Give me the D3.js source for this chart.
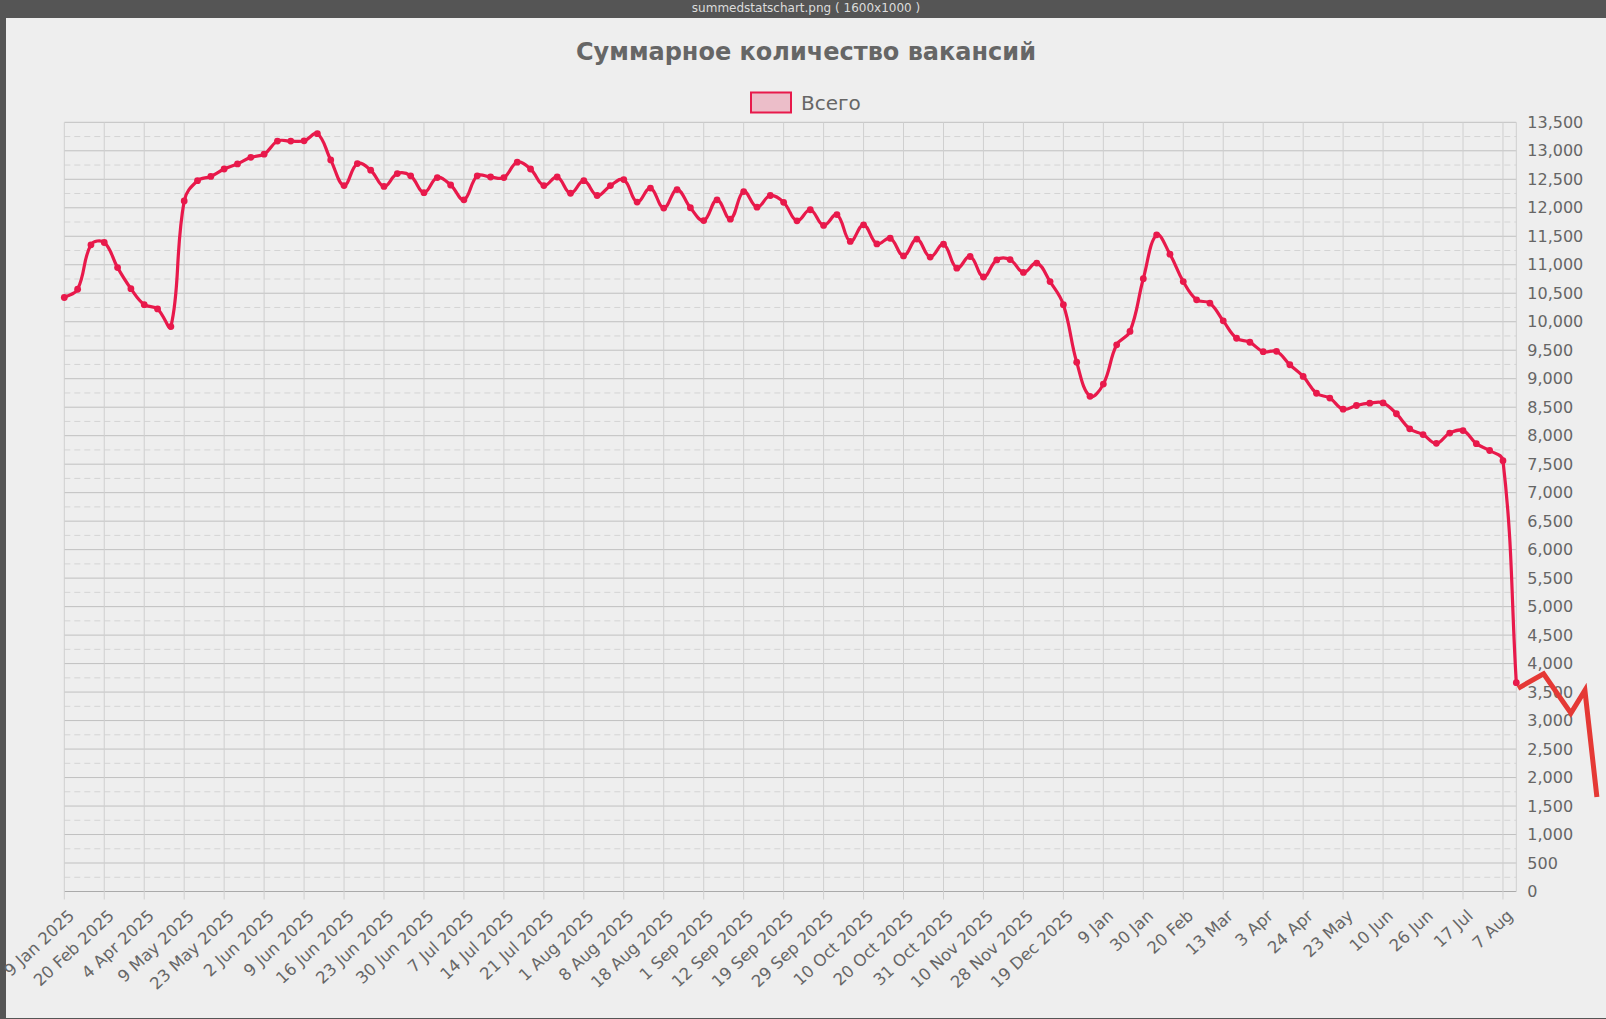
<!DOCTYPE html>
<html>
<head>
<meta charset="utf-8">
<script src="https://cdn.jsdelivr.net/npm/d3@7"></script>
<style>
    html, body { margin: 0; padding: 0; background: #555; }
    svg { display: block; font-family: "DejaVu Sans", sans-serif; }
</style>
</head>
<body>
<div id="chart"></div>
<script>
// tick labels shown under every third point
const tickLabels = [
    '9 Jan 2025', '20 Feb 2025', '4 Apr 2025', '9 May 2025', '23 May 2025', '2 Jun 2025',
    '9 Jun 2025', '16 Jun 2025', '23 Jun 2025', '30 Jun 2025', '7 Jul 2025', '14 Jul 2025',
    '21 Jul 2025', '1 Aug 2025', '8 Aug 2025', '18 Aug 2025', '1 Sep 2025', '12 Sep 2025',
    '19 Sep 2025', '29 Sep 2025', '10 Oct 2025', '20 Oct 2025', '31 Oct 2025', '10 Nov 2025',
    '28 Nov 2025', '19 Dec 2025', '9 Jan', '30 Jan', '20 Feb', '13 Mar', '3 Apr', '24 Apr',
    '23 May', '10 Jun', '26 Jun', '17 Jul', '7 Aug'
];

// "Всего" series, one value per point
const totals = [
    10425, 10570, 11350, 11390, 10950, 10580, 10300, 10225, 9915, 12120,
    12475, 12550, 12680, 12770, 12885, 12940, 13170, 13170, 13175, 13300,
    12840, 12390, 12775, 12660, 12375, 12600, 12560, 12265, 12530, 12400,
    12140, 12560, 12540, 12530, 12800, 12680, 12390, 12540, 12255, 12475,
    12215, 12390, 12495, 12100, 12345, 11995, 12320, 12000, 11775, 12140,
    11800, 12285, 12010, 12215, 12095, 11770, 11965, 11690, 11880, 11410,
    11700, 11365, 11465, 11155, 11450, 11135, 11360, 10940, 11145, 10785,
    11085, 11090, 10865, 11030, 10705, 10300, 9290, 8690, 8905, 9595,
    9830, 10755, 11525, 11185, 10705, 10385, 10325, 10015, 9710, 9640,
    9475, 9480, 9245, 9040, 8745, 8660, 8465, 8530, 8570, 8575,
    8385, 8120, 8020, 7865, 8045, 8090, 7860, 7740, 7560, 3665
];

// stray segment drawn past the right edge of the plot
const tailIdx = [109.13, 111.05, 113.1, 114.15, 115.05];
const tailVals = [3565, 3820, 3130, 3530, 1660];

const yTicks = d3.range(0, 13501, 500);
const yMinor = d3.range(250, 13500, 500);

const W = 1606, H = 1019;
const margin = {left: 64.3, right: 1516.3, top: 122.3, bottom: 891.5};
const lineColor = '#e8194b';

const svg = d3.select('#chart').append('svg')
    .attr('width', W)
    .attr('height', H);

// window frame
svg.append('rect').attr('width', W).attr('height', H).attr('fill', '#555');
svg.append('rect')
    .attr('x', 6).attr('y', 18)
    .attr('width', 1600).attr('height', 1000)
    .attr('fill', '#eeeeee');
svg.append('text')
    .attr('x', 806).attr('y', 8)
    .attr('text-anchor', 'middle')
    .attr('dominant-baseline', 'central')
    .attr('font-size', 12)
    .attr('fill', '#dcdcdc')
    .text('summedstatschart.png ( 1600x1000 )');

const x = d3.scaleLinear()
    .domain([0, totals.length - 1])
    .range([margin.left, margin.right]);

const y = d3.scaleLinear()
    .domain([0, 13500])
    .range([margin.bottom, margin.top]);

// title
svg.append('text')
    .attr('x', 806).attr('y', 52)
    .attr('text-anchor', 'middle')
    .attr('dominant-baseline', 'central')
    .attr('font-size', 24)
    .attr('font-weight', 'bold')
    .attr('fill', '#666')
    .text('Суммарное количество вакансий');

// legend
svg.append('rect')
    .attr('x', 751).attr('y', 92.5)
    .attr('width', 40).attr('height', 20)
    .attr('fill', 'rgba(232,25,75,0.22)')
    .attr('stroke', lineColor)
    .attr('stroke-width', 2);
svg.append('text')
    .attr('x', 801).attr('y', 102.5)
    .attr('dominant-baseline', 'central')
    .attr('font-size', 20)
    .attr('fill', '#666')
    .text('Всего');

// grid
const grid = svg.append('g');
grid.selectAll('.minor')
    .data(yMinor)
    .join('line')
    .attr('x1', margin.left).attr('x2', margin.right)
    .attr('y1', d => y(d)).attr('y2', d => y(d))
    .attr('stroke', '#d4d4d4')
    .attr('stroke-dasharray', '6,4');

grid.selectAll('.major')
    .data(yTicks)
    .join('line')
    .attr('x1', margin.left).attr('x2', margin.right)
    .attr('y1', d => y(d)).attr('y2', d => y(d))
    .attr('stroke', d => d === 0 ? '#aaa' : '#c0c0c0');

const tickIdx = d3.range(0, totals.length, 3);

grid.selectAll('.vline')
    .data(tickIdx)
    .join('line')
    .attr('x1', d => x(d)).attr('x2', d => x(d))
    .attr('y1', margin.top).attr('y2', margin.bottom + 8)
    .attr('stroke', '#cfcfcf');

grid.append('line')
    .attr('x1', margin.right).attr('x2', margin.right)
    .attr('y1', margin.top).attr('y2', margin.bottom)
    .attr('stroke', '#cfcfcf');

// axes
const xAxis = d3.axisBottom(x)
    .tickValues(tickIdx)
    .tickFormat(i => tickLabels[i / 3])
    .tickSize(0);

const xAxisG = svg.append('g')
    .attr('transform', `translate(0,${margin.bottom})`)
    .call(xAxis);
xAxisG.select('.domain').remove();
xAxisG.selectAll('text')
    .attr('x', 0).attr('y', 0).attr('dy', '0.35em')
    .attr('text-anchor', 'end')
    .attr('transform', 'translate(6.6,21.3) rotate(-43)')
    .attr('font-size', 16.5)
    .attr('font-family', '"DejaVu Sans", sans-serif')
    .attr('fill', '#666');

const yAxis = d3.axisRight(y)
    .tickValues(yTicks)
    .tickFormat(d3.format(','))
    .tickSize(0)
    .tickPadding(11);

const yAxisG = svg.append('g')
    .attr('transform', `translate(${margin.right},0)`)
    .call(yAxis);
yAxisG.select('.domain').remove();
yAxisG.selectAll('text')
    .attr('font-size', 16)
    .attr('font-family', '"DejaVu Sans", sans-serif')
    .attr('fill', '#666');

// smoothed path, same control-point rule as a tension 0.4 spline
function splinePath(pts, t) {
    const clampX = v => Math.max(margin.left, Math.min(margin.right, v));
    const clampY = v => Math.max(margin.top, Math.min(margin.bottom, v));
    const cps = pts.map((p, i) => {
        const prev = pts[i - 1] || p;
        const next = pts[i + 1] || p;
        const d01 = Math.hypot(p[0] - prev[0], p[1] - prev[1]);
        const d12 = Math.hypot(next[0] - p[0], next[1] - p[1]);
        let s01 = d01 / (d01 + d12), s12 = d12 / (d01 + d12);
        if (isNaN(s01)) s01 = 0;
        if (isNaN(s12)) s12 = 0;
        const fa = t * s01, fb = t * s12;
        return {
            prev: [clampX(p[0] - fa * (next[0] - prev[0])), clampY(p[1] - fa * (next[1] - prev[1]))],
            next: [clampX(p[0] + fb * (next[0] - prev[0])), clampY(p[1] + fb * (next[1] - prev[1]))]
        };
    });
    const path = d3.path();
    path.moveTo(pts[0][0], pts[0][1]);
    for (let i = 1; i < pts.length; i++) {
        path.bezierCurveTo(cps[i - 1].next[0], cps[i - 1].next[1],
            cps[i].prev[0], cps[i].prev[1], pts[i][0], pts[i][1]);
    }
    return path.toString();
}

// series
const pts = totals.map((v, i) => [x(i), y(v)]);

svg.append('path')
    .attr('d', splinePath(pts, 0.4))
    .attr('fill', 'none')
    .attr('stroke', lineColor)
    .attr('stroke-width', 3.2);

svg.selectAll('.dot')
    .data(totals)
    .join('circle')
    .attr('cx', (d, i) => x(i))
    .attr('cy', d => y(d))
    .attr('r', 3.4)
    .attr('fill', lineColor);

const tail = tailIdx.map((t, i) => [t, tailVals[i]]);
svg.append('path')
    .datum(tail)
    .attr('d', d3.line().x(d => x(d[0])).y(d => y(d[1])))
    .attr('fill', 'none')
    .attr('stroke', '#e53935')
    .attr('stroke-width', 5);
</script>
</body>
</html>
